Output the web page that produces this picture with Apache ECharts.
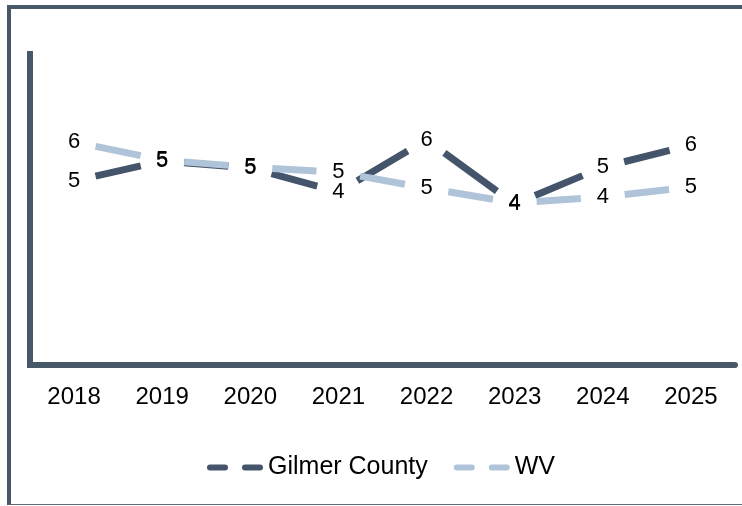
<!DOCTYPE html>
<html>
<head>
    <meta charset="utf-8" />
    <title>Gilmer County vs WV</title>
    <script src="https://cdn.jsdelivr.net/npm/echarts@6/dist/echarts.min.js"></script>
    <style>
        * {
            margin: 0;
            padding: 0;
            box-sizing: border-box
        }

        body {
            background: #fff;
            width: 742px;
            height: 506px;
            overflow: hidden;
            position: relative
        }

        #chart {
            width: 742px;
            height: 506px
        }

        .frame {
            position: absolute;
            left: 7px;
            top: 5px;
            width: 800px;
            height: 500px;
            border-top: 4px solid #475869;
            border-left: 4px solid #475869;
            border-bottom: 1px solid #5f6b77;
            pointer-events: none
        }
    </style>
</head>
<body>
    <div id="chart"></div>
    <div class="frame"></div>

    <script>
        const years = ['2018', '2019', '2020', '2021', '2022', '2023', '2024', '2025'];
        const gilmer = [4.73, 5.25, 5.07, 4.45, 5.79, 4.14, 5.09, 5.66];
        const wv = [5.74, 5.27, 5.09, 4.96, 4.55, 4.17, 4.32, 4.58];

        const darkColor = '#44546a';
        const lightColor = '#b0c4d9';
        const axisColor = '#475869';
        const legendIcon = 'path://M3 0H18A3 3 0 0 1 18 6H3A3 3 0 0 1 3 0ZM38 0H53A3 3 0 0 1 53 6H38A3 3 0 0 1 38 0Z';

        // each dash runs from one point to the next, cut short near both points
        function toSegments(values) {
            return values.slice(0, -1).map((v, i) => [i, v, values[i + 1]]);
        }

        function dashRenderer(color) {
            return function (params, api) {
                const a = api.coord([api.value(0), api.value(1)]);
                const b = api.coord([api.value(0) + 1, api.value(2)]);
                const dx = b[0] - a[0], dy = b[1] - a[1];
                const cut = 22 / Math.hypot(dx, dy);
                return {
                    type: 'line',
                    shape: {
                        x1: a[0] + dx * cut, y1: a[1] + dy * cut,
                        x2: b[0] - dx * cut, y2: b[1] - dy * cut
                    },
                    style: { stroke: color, lineWidth: 7 }
                };
            };
        }

        function labelSeries(name, values, color) {
            return {
                name: name,
                type: 'line',
                data: values,
                symbol: 'circle',
                symbolSize: 0.1,
                itemStyle: { color: color },
                lineStyle: { opacity: 0 },
                z: 5,
                label: {
                    show: true,
                    position: 'inside',
                    color: '#000',
                    fontSize: 22,
                    fontFamily: 'Liberation Sans, Arial, sans-serif',
                    formatter: p => Math.round(p.value)
                }
            };
        }

        const chart = echarts.init(document.getElementById('chart'));

        chart.setOption({
            animation: false,
            grid: { left: 30, right: 7, top: 54, bottom: 141 },
            legend: {
                left: 207,
                top: 455,
                padding: 0,
                itemWidth: 56,
                itemHeight: 6,
                itemGap: 26,
                selectedMode: false,
                textStyle: { color: '#000', fontSize: 25, fontFamily: 'Liberation Sans, Arial, sans-serif' },
                data: [
                    { name: 'Gilmer County', icon: legendIcon },
                    { name: 'WV', icon: legendIcon }
                ]
            },
            xAxis: {
                type: 'category',
                data: years,
                axisLine: { lineStyle: { color: axisColor, width: 6 } },
                axisTick: { show: false },
                axisLabel: { color: '#000', fontSize: 24, margin: 20, fontFamily: 'Liberation Sans, Arial, sans-serif' }
            },
            yAxis: {
                type: 'value',
                min: 0,
                max: 8,
                axisLine: { show: true, lineStyle: { color: axisColor, width: 6, cap: 'square' } },
                axisTick: { show: false },
                axisLabel: { show: false },
                splitLine: { show: false }
            },
            series: [
                {
                    type: 'custom',
                    data: toSegments(gilmer),
                    renderItem: dashRenderer(darkColor),
                    z: 2
                },
                {
                    type: 'custom',
                    data: toSegments(wv),
                    renderItem: dashRenderer(lightColor),
                    z: 3
                },
                labelSeries('Gilmer County', gilmer, darkColor),
                labelSeries('WV', wv, lightColor)
            ]
        });
    </script>
</body>
</html>
